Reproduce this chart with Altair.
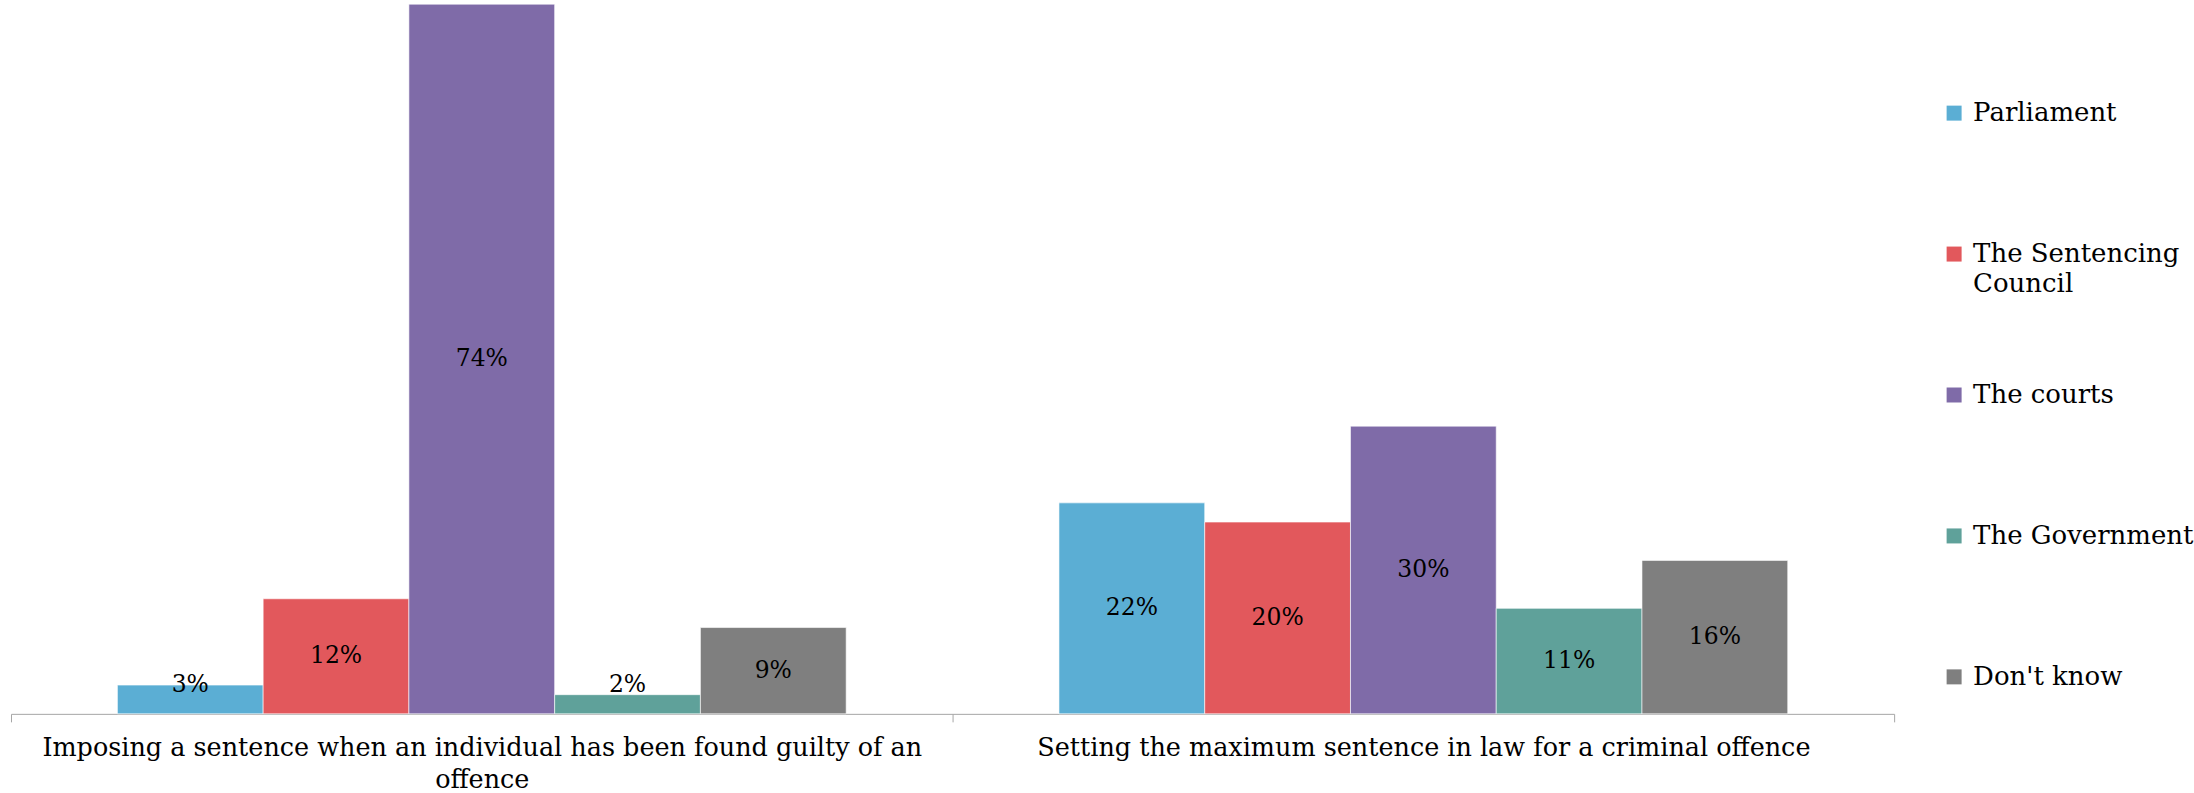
import altair as alt
import pandas as pd

# Survey: who should be responsible for each sentencing task
categories = [
    "Imposing a sentence when an individual has been found guilty of an offence",
    "Setting the maximum sentence in law for a criminal offence",
]
bodies = ["Parliament", "The Sentencing Council", "The courts", "The Government", "Don't know"]
imposing_pct = [3, 12, 74, 2, 9]
setting_pct = [22, 20, 30, 11, 16]
body_colors = ["#5BAED4", "#E2585C", "#7F6BA8", "#5FA19A", "#7F7F7F"]

rows = []
for cat, vals in zip(categories, [imposing_pct, setting_pct]):
    for body, v in zip(bodies, vals):
        rows.append({"category": cat, "body": body, "pct": v})
df = pd.DataFrame(rows)

FONT = "DejaVu Serif"

x_enc = alt.X(
    "category:N",
    sort=categories,
    scale=alt.Scale(paddingInner=0, paddingOuter=0),
    axis=alt.Axis(
        title=None,
        labelAngle=0,
        tickBand="extent",
        tickSize=8,
        tickColor="#A6A6A6",
        domainColor="#A6A6A6",
        labelFont=FONT,
        labelFontSize=25.5,
        labelColor="#000000",
        labelPadding=14,
        labelLineHeight=32,
        labelLimit=0,
        labelExpr=(
            "length(datum.label) > 70 ? "
            "[slice(datum.label, 0, lastindexof(datum.label, ' ')), "
            "slice(datum.label, lastindexof(datum.label, ' ') + 1)] : datum.label"
        ),
    ),
)
xoff = alt.XOffset("body:N", sort=bodies, scale=alt.Scale(paddingInner=0, paddingOuter=0.73))
y_scale = alt.Scale(domain=[0, 74], nice=False, zero=True)

# Legend labels are laid out as two lines each (the second may be empty)
# so that every entry has the same height.
legend_label_expr = (
    "length(datum.label) > 16 ? "
    "[join(slice(split(datum.label, ' '), 0, 2), ' '), "
    "join(slice(split(datum.label, ' '), 2), ' ')] : [datum.label, '']"
)

bars = alt.Chart(df).mark_bar(stroke="white", strokeWidth=1, strokeOpacity=0.6).encode(
    x=x_enc,
    xOffset=xoff,
    y=alt.Y("pct:Q", scale=y_scale, axis=None),
    color=alt.Color(
        "body:N",
        sort=bodies,
        scale=alt.Scale(domain=bodies, range=body_colors),
        legend=alt.Legend(
            title=None,
            orient="none",
            legendX=1931,
            legendY=96,
            symbolType="square",
            symbolSize=225,
            symbolStrokeWidth=0,
            labelFont=FONT,
            labelFontSize=26,
            labelColor="#000000",
            labelOffset=6,
            labelLimit=0,
            rowPadding=85,
            labelExpr=legend_label_expr,
        ),
    ),
)

labels = alt.Chart(df).transform_calculate(
    label_y="max(datum.pct / 2, 3)",
    label_text="datum.pct + '%'",
).mark_text(font=FONT, fontSize=23.5, color="#000000", baseline="middle").encode(
    x=alt.X("category:N", sort=categories),
    xOffset=alt.XOffset("body:N", sort=bodies),
    y=alt.Y("label_y:Q", scale=y_scale),
    text="label_text:N",
)

chart = (
    alt.layer(bars, labels)
    .properties(
        width=1884,
        height=710,
        padding={"left": 10, "top": 3, "right": 0, "bottom": 0},
        background="white",
    )
    .configure(style={"guide-label": {"lineHeight": 30}})
    .configure_view(stroke=None)
)

chart.save("out.html", embed_options={"renderer": "svg", "actions": False})
